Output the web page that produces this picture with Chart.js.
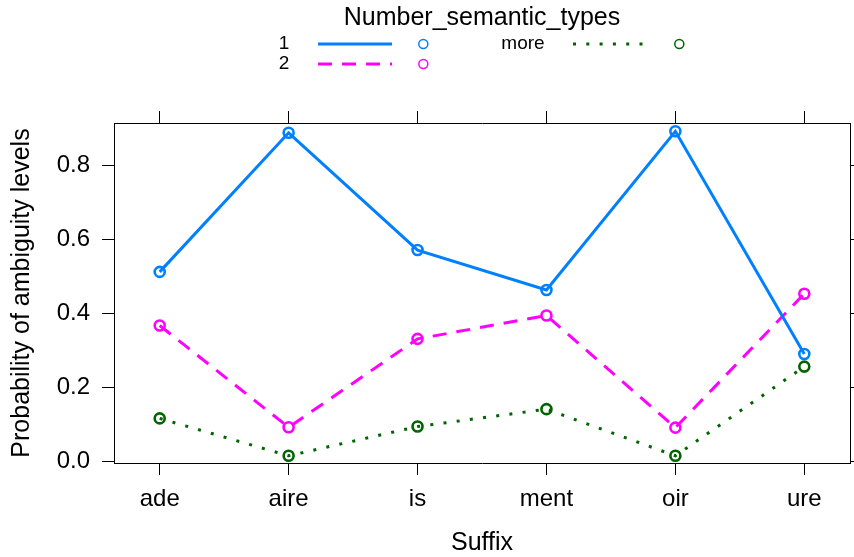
<!DOCTYPE html>
<html>
<head>
<meta charset="utf-8">
<script src="https://cdn.jsdelivr.net/npm/chart.js@4"></script>
<style>
  body { margin: 0; background: #fff; }
  canvas { display: block; }
</style>
</head>
<body>
<canvas id="myChart" width="854" height="557"></canvas>
<script>
// data
const suffixes = ['ade', 'aire', 'is', 'ment', 'oir', 'ure'];
const groups = ['1', '2', 'more'];
const prob_1 = [0.513, 0.889, 0.572, 0.464, 0.893, 0.291];
const prob_2 = [0.368, 0.093, 0.332, 0.395, 0.092, 0.454];
const prob_more = [0.117, 0.016, 0.095, 0.142, 0.016, 0.257];
const yTicks = [0, 0.2, 0.4, 0.6, 0.8];

const FONT = "'Liberation Sans', Arial, Helvetica, sans-serif";

function puntos(arr) {
  return arr.map((v, i) => ({ x: i, y: v }));
}

var data = {
  datasets: [
    {
      label: groups[0],
      data: puntos(prob_1),
      borderColor: '#0080ff',
      borderWidth: 3,
      lineTension: 0
    },
    {
      label: groups[1],
      data: puntos(prob_2),
      borderColor: '#ff00ff',
      borderWidth: 3,
      borderDash: [14, 10],
      lineTension: 0
    },
    {
      label: groups[2],
      data: puntos(prob_more),
      borderColor: '#006400',
      borderWidth: 3,
      borderDash: [3, 10.3],
      lineTension: 0
    }
  ]
};
data.datasets.forEach(ds => {
  ds.pointRadius = 5;
  ds.pointBorderWidth = 2.6;
  ds.pointBackgroundColor = 'rgba(0,0,0,0)';
  ds.pointBorderColor = ds.borderColor;
  ds.fill = false;
});

// lattice style key drawn above the panel
const leyenda = {
  id: 'leyenda',
  afterDraw(chart) {
    const ctx = chart.ctx;
    const cx = (chart.chartArea.left + chart.chartArea.right) / 2;
    const ds = chart.data.datasets;
    ctx.save();
    ctx.fillStyle = '#000';
    ctx.textAlign = 'center';
    ctx.textBaseline = 'middle';
    ctx.font = '25px ' + FONT;
    ctx.fillText('Number_semantic_types', cx, 18);

    const slots = [
      { lx: cx - 198, x0: cx - 164, px: cx - 58.7, y: 44 },
      { lx: cx - 198, x0: cx - 164, px: cx - 58.7, y: 64 },
      { lx: cx + 41, x0: cx + 91, px: cx + 197.3, y: 44 }
    ];
    ds.forEach((d, i) => {
      const s = slots[i];
      ctx.fillStyle = '#000';
      ctx.font = '19px ' + FONT;
      ctx.fillText(d.label, s.lx, s.y);
      ctx.strokeStyle = d.borderColor;
      ctx.lineWidth = d.borderWidth;
      ctx.setLineDash(d.borderDash || []);
      ctx.beginPath();
      ctx.moveTo(s.x0, s.y);
      ctx.lineTo(s.x0 + 74, s.y);
      ctx.stroke();
      ctx.setLineDash([]);
      ctx.lineWidth = 1.5;
      ctx.beginPath();
      ctx.arc(s.px, s.y, 4.5, 0, Math.PI * 2);
      ctx.stroke();
    });
    ctx.restore();
  }
};

const xMin = -0.3545, xMax = suffixes.length - 1 + 0.3545;
const yMin = -0.0035, yMax = 0.9154;

function ejeX(pos, mostrar) {
  return {
    type: 'linear',
    position: pos,
    min: xMin,
    max: xMax,
    afterBuildTicks: s => { s.ticks = suffixes.map((c, i) => ({ value: i })); },
    afterFit: s => {
      s.height = mostrar ? 94 : 12;
      s.paddingLeft = 0;
      s.paddingRight = 0;
    },
    grid: { drawOnChartArea: false, drawTicks: true, tickLength: 12, color: '#000', tickColor: '#000' },
    border: { display: true, color: '#000', width: 1 },
    ticks: {
      display: mostrar,
      padding: 10,
      color: '#000',
      font: { family: FONT, size: 24 },
      maxRotation: 0,
      callback: v => suffixes[v]
    },
    title: {
      display: mostrar,
      text: 'Suffix',
      color: '#000',
      font: { family: FONT, size: 25 },
      padding: { top: 0, bottom: -1 }
    }
  };
}

function ejeY(pos, mostrar) {
  return {
    type: 'linear',
    position: pos,
    min: yMin,
    max: yMax,
    afterBuildTicks: s => { s.ticks = yTicks.map(v => ({ value: v })); },
    afterFit: s => {
      s.width = mostrar ? 114 : 4;
      s.paddingTop = 0;
      s.paddingBottom = 0;
    },
    grid: { drawOnChartArea: false, drawTicks: true, tickLength: 12, color: '#000', tickColor: '#000' },
    border: { display: true, color: '#000', width: 1 },
    ticks: {
      display: mostrar,
      padding: 12,
      color: '#000',
      font: { family: FONT, size: 24 },
      callback: v => v.toFixed(1)
    },
    title: {
      display: mostrar,
      text: 'Probability of ambiguity levels',
      color: '#000',
      font: { family: FONT, size: 25 },
      padding: { top: 7, bottom: 0 }
    }
  };
}

config = {
  type: 'line',
  data: data,
  options: {
    responsive: false,
    animation: false,
    devicePixelRatio: 1,
    layout: { autoPadding: false, padding: { top: 111, left: 0, right: 0, bottom: 0 } },
    plugins: {
      legend: { display: false },
      tooltip: { enabled: false }
    },
    scales: {
      x: ejeX('bottom', true),
      x2: ejeX('top', false),
      y: ejeY('left', true),
      y2: ejeY('right', false)
    }
  },
  plugins: [leyenda]
};

var myChart = new Chart(document.getElementById('myChart'), config);
</script>
</body>
</html>
